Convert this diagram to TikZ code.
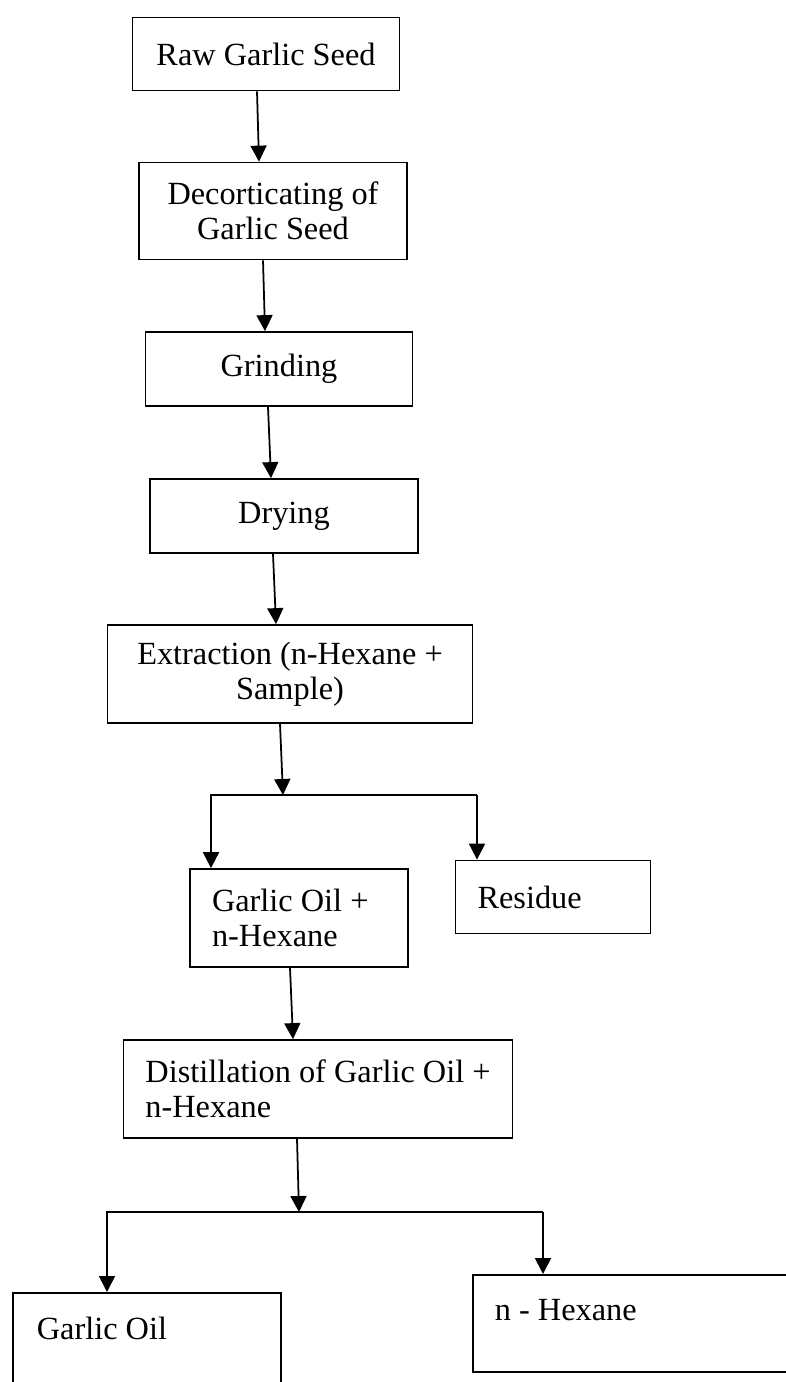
\documentclass[tikz,border=0pt]{standalone}
\usepackage{fontspec}
\setmainfont{Liberation Serif}
\usepackage{tikz}
\usetikzlibrary{shapes,arrows.meta}

\begin{document}
\begin{tikzpicture}[x=0.02cm,y=-0.02cm,line width=1pt,
   >={Triangle[length=0.32cm,width=0.32cm]},
   box/.style={draw,rectangle,inner sep=0pt,font=\fontsize{18.4}{20}\selectfont},
   lbox/.style={box,align=flush left,inner xsep=0.44cm}]
   \useasboundingbox (0,0) rectangle (785,1382);
   \node[box,minimum width=5.34cm,minimum height=1.46cm] (raw) at (266,54) {Raw Garlic Seed};
   \node[box,minimum width=5.36cm,minimum height=1.94cm,align=center] (dec) at (273,211) {Decorticating of\\Garlic Seed};
   \node[box,minimum width=5.34cm,minimum height=1.48cm] (grind) at (279,369) {Grinding};
   \node[box,minimum width=5.36cm,minimum height=1.48cm] (dry) at (284,516) {Drying};
   \node[box,minimum width=7.3cm,minimum height=1.96cm,align=center] (ext) at (290,674) {Extraction (n-Hexane +\\Sample)};
   \node[lbox,minimum height=1.96cm,text width=3.48cm] (mix) at (299,918) {Garlic Oil +\\n-Hexane};
   \node[lbox,minimum height=1.46cm,text width=3.02cm] (res) at (553,897) {Residue};
   \node[box,align=left,minimum width=7.78cm,minimum height=1.96cm] (dist) at (318,1089) {Distillation of Garlic Oil +\\n-Hexane};
   \node[lbox,anchor=north west,text width=4.4cm,inner xsep=0.48cm,inner ysep=0.48cm,text depth=1.2cm] (oil) at (12,1292) {Garlic Oil};
   \node[lbox,anchor=north west,text width=5.68cm,inner ysep=0.48cm,text depth=0.56cm] (hex) at (472,1274) {n - Hexane};
   % main line
   \draw[->] ([xshift=-0.18cm]raw.south) -- ([xshift=-0.28cm]dec.north);
   \draw[->] ([xshift=-0.2cm]dec.south) -- ([xshift=-0.28cm]grind.north);
   \draw[->] ([xshift=-0.22cm]grind.south) -- ([xshift=-0.26cm]dry.north);
   \draw[->] ([xshift=-0.22cm]dry.south) -- ([xshift=-0.28cm]ext.north);
   % split after extraction
   \coordinate (s1) at (283,795);
   \coordinate (s1l) at (211,795);
   \coordinate (s1r) at (477,795);
   \draw[->] ([xshift=-0.2cm]ext.south) -- (s1);
   \draw[->] (s1r) -- (s1l) -- (s1l |- mix.north);
   \draw[->] (s1r) -- (s1r |- res.north);
   \draw[->] ([xshift=-0.18cm]mix.south) -- ([xshift=-0.5cm]dist.north);
   % split after distillation
   \coordinate (s2) at (299,1212);
   \coordinate (s2l) at (107,1212);
   \coordinate (s2r) at (543,1212);
   \draw[->] ([xshift=-0.42cm]dist.south) -- (s2);
   \draw[->] (s2r) -- (s2l) -- (s2l |- oil.north);
   \draw[->] (s2r) -- (s2r |- hex.north);
\end{tikzpicture}
\end{document}
